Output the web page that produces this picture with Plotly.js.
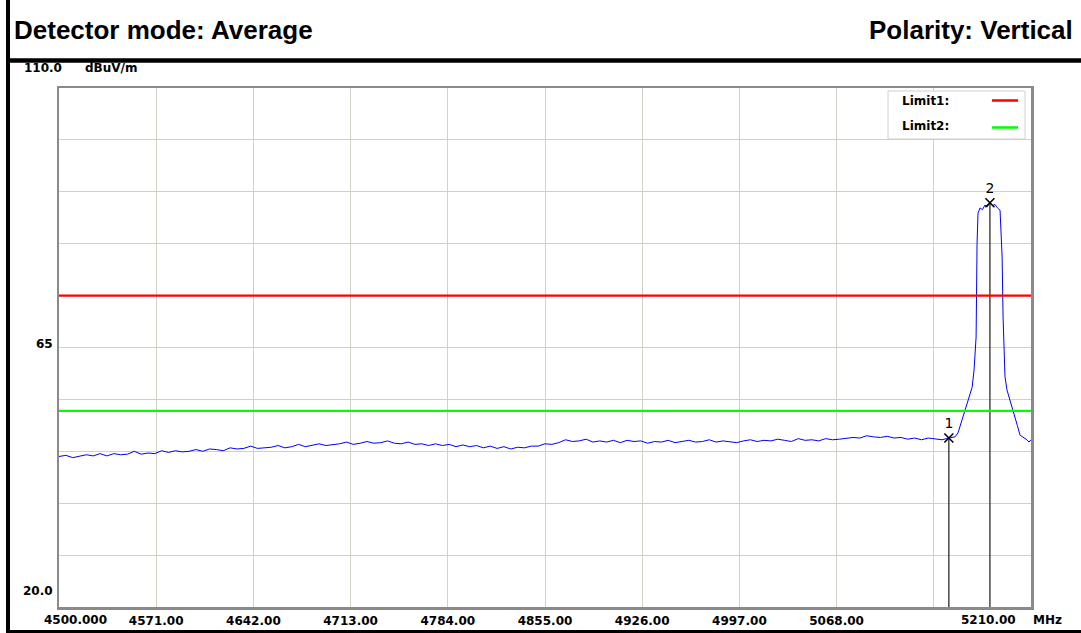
<!DOCTYPE html>
<html>
<head>
<meta charset="utf-8">
<script src="https://cdn.plot.ly/plotly-3.0.1.min.js"></script>
<style>
  html, body { margin: 0; padding: 0; background: #ffffff; }
  #chart { width: 1081px; height: 633px; }
</style>
</head>
<body>
<div id="chart"></div>
<script>
// ---- Data ----
const freqMHz = [
  4500,4505,4510,4515,4520,4525,4530,4535,4540,4545,4550,4555,4560,4565,4570,4575,4580,4585,4590,4595,
  4600,4605,4610,4615,4620,4625,4630,4635,4640,4645,4650,4655,4660,4665,4670,4675,4680,4685,4690,4695,
  4700,4705,4710,4715,4720,4725,4730,4735,4740,4745,4750,4755,4760,4765,4770,4775,4780,4785,4790,4795,
  4800,4805,4810,4815,4820,4825,4830,4835,4840,4845,4850,4855,4860,4865,4870,4875,4880,4885,4890,4895,
  4900,4905,4910,4915,4920,4925,4930,4935,4940,4945,4950,4955,4960,4965,4970,4975,4980,4985,4990,4995,
  5000,5005,5010,5015,5020,5025,5030,5035,5040,5045,5050,5055,5060,5065,5070,5075,5080,5085,5090,5095,
  5100,5105,5110,5115,5120,5125,5130,5135,5140,5145,5150,
  5154.5,5156.7,5160.4,5163.3,5167.0,5168.4,5169.9,5170.6,5171.3,5172.8,5174.5,5176.4,5178,5180,5182,
  5183.7,5185.5,5187.4,5188.9,5189.6,5191.0,5192.5,5194.7,5196.5,5198.3,5200,5202,5204,5205.6,5207,5208.6,5210
];
const levelDb = [
  46.1,46.3,45.9,46.2,46.4,46.2,46.6,46.2,46.6,46.4,46.5,47.0,46.5,46.7,46.6,47.1,46.8,47.1,46.9,47.0,
  47.3,47.0,47.4,47.3,47.1,47.6,47.4,47.5,47.9,47.5,47.6,47.7,48.0,47.6,47.8,48.2,47.8,48.0,48.3,48.0,
  48.1,48.3,48.6,48.2,48.4,48.7,48.4,48.5,48.8,48.4,48.3,48.6,48.2,48.3,48.0,48.3,48.0,48.2,47.8,48.1,
  47.8,48.0,47.6,47.9,47.5,47.8,47.4,47.7,47.6,47.9,47.9,48.3,48.2,48.5,49.0,48.7,48.8,49.1,48.6,48.8,
  48.6,48.9,48.5,48.9,48.7,48.8,48.4,48.7,48.6,48.9,48.5,48.7,48.9,48.6,48.7,49.0,48.6,48.8,48.7,48.5,
  48.8,49.0,48.7,48.9,48.8,49.1,48.9,48.7,49.2,48.9,49.0,48.8,49.2,49.0,49.1,49.3,49.4,49.3,49.7,49.5,
  49.4,49.6,49.3,49.4,49.1,49.3,49.0,49.3,49.2,49.0,49.3,
  49.5,50.2,52.9,55.4,58.1,61.1,66.8,83.1,88.3,89.2,88.9,89.7,89.4,90.1,89.6,
  89.8,89.2,88.8,80.7,70.3,59.9,57.6,55.9,54.6,53.0,51.5,49.8,49.5,49.3,49.0,48.6,49.0
];
const limitNames = ['Limit1:', 'Limit2:'];
const limitVals = [74, 54];
const markerIds = ['1', '2'];
const markerFreq = [5150, 5180];
const markerLevel = [49.3, 90.1];
const xTickVals = [4571, 4642, 4713, 4784, 4855, 4926, 4997, 5068, 5139];
const xTickText = ['4571.00', '4642.00', '4713.00', '4784.00', '4855.00', '4926.00', '4997.00', '5068.00', ''];
const xStart = 4500, xStop = 5210, yBottom = 20, yTop = 110, yMid = 65;
const xStartLabel = '4500.000', xStopLabel = '5210.00', xUnit = 'MHz';
const yTopLabel = '110.0', yMidLabel = '65', yBottomLabel = '20.0', yUnit = 'dBuV/m';
const headerLeft = 'Detector mode: Average';
const headerRight = 'Polarity: Vertical';

// ---- Styles ----
const limitColors = ['#ff0000', '#00ff00'];
const tickFont = { family: 'DejaVu Sans, sans-serif', size: 12, color: '#000000', weight: 'bold' };
const headFont = { family: 'Liberation Sans, Arial, sans-serif', size: 26, color: '#000000', weight: 'bold' };

const traces = [];
traces.push({
  x: freqMHz, y: levelDb, type: 'scatter', mode: 'lines',
  line: { color: '#0000ff', width: 1 }, hoverinfo: 'skip', showlegend: false
});
// marker drop lines
const mlx = [], mly = [];
markerFreq.forEach((f, i) => { mlx.push(f, f, null); mly.push(markerLevel[i], yBottom, null); });
traces.push({
  x: mlx, y: mly, type: 'scatter', mode: 'lines',
  line: { color: '#1a1a1a', width: 1.2 }, hoverinfo: 'skip', showlegend: false
});
limitVals.forEach((v, i) => {
  traces.push({
    x: [xStart, xStop], y: [v, v], type: 'scatter', mode: 'lines',
    line: { color: limitColors[i], width: 2.2 }, hoverinfo: 'skip', showlegend: false
  });
});
traces.push({
  x: markerFreq, y: markerLevel, type: 'scatter', mode: 'markers+text',
  text: markerIds, textposition: 'top center',
  textfont: { family: 'DejaVu Sans, sans-serif', size: 14, color: '#000000' },
  marker: { symbol: 'x-thin-open', size: 9, color: '#000000', line: { color: '#000000', width: 1.6 } },
  hoverinfo: 'skip', showlegend: false, cliponaxis: false
});

// ---- Frame geometry (paper coords) ----
const W = 1081, H = 633, L = 59, R = 1031, T = 88, B = 607;
const px = v => (v - L) / (R - L);
const py = v => (B - v) / (B - T);

const shapes = [
  { type: 'line', xref: 'paper', yref: 'paper', x0: px(8), x1: px(8), y0: py(0), y1: py(H), line: { color: '#000', width: 4 } },
  { type: 'line', xref: 'paper', yref: 'paper', x0: px(6), x1: px(W), y0: py(60.5), y1: py(60.5), line: { color: '#000', width: 4.5 } },
  { type: 'line', xref: 'paper', yref: 'paper', x0: px(6), x1: px(W), y0: py(631.5), y1: py(631.5), line: { color: '#000', width: 3 } },
  { type: 'rect', xref: 'paper', yref: 'paper', x0: px(888), x1: px(1025), y0: py(139), y1: py(91),
    fillcolor: '#ffffff', line: { color: '#d4d0c8', width: 1 } }
];
limitVals.forEach((v, i) => {
  const yy = i === 0 ? 100.5 : 127.5;
  shapes.push({ type: 'line', xref: 'paper', yref: 'paper', x0: px(992), x1: px(1018), y0: py(yy), y1: py(yy),
    line: { color: limitColors[i], width: 2.5 } });
});

const annotations = [
  { text: headerLeft, xref: 'paper', yref: 'paper', x: px(12), y: py(30), xanchor: 'left', yanchor: 'middle', showarrow: false, font: headFont },
  { text: headerRight, xref: 'paper', yref: 'paper', x: px(1075), y: py(30), xanchor: 'right', yanchor: 'middle', showarrow: false, font: headFont },
  { text: yTopLabel, xref: 'x', yref: 'y', x: xStart, y: yTop, xanchor: 'right', yanchor: 'middle', xshift: 5, yshift: 20, showarrow: false, font: tickFont },
  { text: yUnit, xref: 'x', yref: 'y', x: xStart, y: yTop, xanchor: 'left', yanchor: 'middle', xshift: 24, yshift: 20, showarrow: false, font: tickFont },
  { text: yMidLabel, xref: 'x', yref: 'y', x: xStart, y: yMid, xanchor: 'right', yanchor: 'middle', xshift: -4, yshift: 4, showarrow: false, font: tickFont },
  { text: yBottomLabel, xref: 'x', yref: 'y', x: xStart, y: yBottom, xanchor: 'right', yanchor: 'middle', xshift: -4, yshift: 16, showarrow: false, font: tickFont },
  { text: xStartLabel, xref: 'x', yref: 'paper', x: xStart, y: 0, xanchor: 'left', yanchor: 'middle', xshift: -17, yshift: -13, showarrow: false, font: tickFont },
  { text: xStopLabel, xref: 'x', yref: 'paper', x: xStop, y: 0, xanchor: 'right', yanchor: 'middle', xshift: -13, yshift: -13, showarrow: false, font: tickFont },
  { text: xUnit, xref: 'x', yref: 'paper', x: xStop, y: 0, xanchor: 'left', yanchor: 'middle', xshift: 0, yshift: -13, showarrow: false, font: tickFont }
];
limitNames.forEach((n, i) => {
  annotations.push({ text: n, xref: 'paper', yref: 'paper', x: px(900), y: py(i === 0 ? 100.5 : 126), xanchor: 'left', yanchor: 'middle',
    showarrow: false, font: tickFont });
});

const layout = {
  width: W, height: H,
  margin: { l: L, r: W - R, t: T, b: H - B, pad: 0 },
  paper_bgcolor: '#ffffff', plot_bgcolor: '#ffffff',
  showlegend: false,
  xaxis: {
    range: [xStart, xStop], fixedrange: true,
    tickmode: 'array', tickvals: xTickVals, ticktext: xTickText,
    ticks: '', tickfont: tickFont, ticklabelstandoff: 1,
    showgrid: true, gridcolor: '#d4d0c8', gridwidth: 1, zeroline: false,
    showline: true, linecolor: '#8a8a8a', linewidth: 2.5, mirror: true
  },
  yaxis: {
    range: [yBottom, yTop], fixedrange: true,
    tick0: yBottom, dtick: 9, showticklabels: false, ticks: '',
    showgrid: true, gridcolor: '#d4d0c8', gridwidth: 1, zeroline: false,
    showline: true, linecolor: '#8a8a8a', linewidth: 2.5, mirror: true
  },
  shapes: shapes,
  annotations: annotations
};

Plotly.newPlot('chart', traces, layout, { staticPlot: true, displayModeBar: false });
</script>
</body>
</html>
